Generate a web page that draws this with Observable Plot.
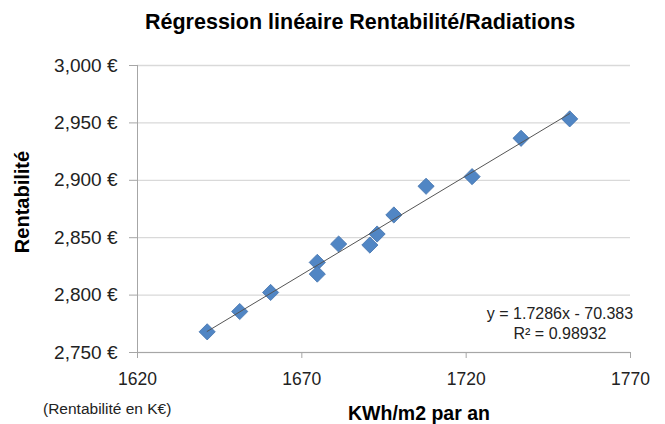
<!DOCTYPE html>
<html>
<head>
<meta charset="utf-8">
<script src="https://cdn.jsdelivr.net/npm/d3@7"></script>
<script src="https://cdn.jsdelivr.net/npm/@observablehq/plot@0.6"></script>
<style>
  body { margin: 0; background: #fff; font-family: "Liberation Sans", Arial, sans-serif; }
  #wrap { position: relative; width: 665px; height: 424px; overflow: hidden; }
  #wrap svg { position: absolute; left: 0; top: 0; }
  .t { position: absolute; white-space: nowrap; color: #000; line-height: 1; font-family: "Liberation Sans", Arial, sans-serif; }
</style>
</head>
<body>
<div id="wrap">
  <div class="t" style="left:145px;top:12.2px;font-size:21.5px;font-weight:bold;">Régression linéaire Rentabilité/Radiations</div>
  <div class="t" style="left:22px;top:202px;font-size:20px;font-weight:bold;transform:translate(-50%,-50%) rotate(-90deg);">Rentabilité</div>
  <div class="t" style="left:348px;top:403.5px;font-size:19.5px;font-weight:bold;">KWh/m2 par an</div>
  <div class="t" style="left:43px;top:401px;font-size:15.5px;color:#222;">(Rentabilité en K€)</div>
  <div class="t" id="eq1" style="left:560px;top:306px;font-size:16px;color:#222;transform:translateX(-50%);"></div>
  <div class="t" id="eq2" style="left:560px;top:326px;font-size:16px;color:#222;transform:translateX(-50%);"></div>
</div>
<script>
// Data
const radiation   = [1641.2, 1651.1, 1660.5, 1674.7, 1674.7, 1681.2, 1690.7, 1692.9, 1698.0, 1707.8, 1721.8, 1736.7, 1751.5];
const rentabilite = [2768.0, 2785.7, 2802.3, 2828.5, 2818.3, 2844.5, 2843.6, 2853.2, 2869.8, 2894.8, 2903.2, 2936.6, 2953.5];
const xTicks = [1620, 1670, 1720, 1770];
const yTicks = [2750, 2800, 2850, 2900, 2950, 3000];
const slopeText = "1.7286";
const interceptText = "70.383";
const r2Text = "0.98932";

document.getElementById("eq1").textContent = `y = ${slopeText}x - ${interceptText}`;
document.getElementById("eq2").textContent = `R² = ${r2Text}`;

const data = radiation.map((x, i) => ({x, y: rentabilite[i]}));
const fmt = d3.format(",");

const chart = Plot.plot({
  width: 665,
  height: 424,
  marginLeft: 137,
  marginRight: 35,
  marginTop: 65,
  marginBottom: 72,
  style: { fontFamily: "Liberation Sans, Arial, sans-serif", background: "transparent", overflow: "visible" },
  x: { domain: [1620, 1770] },
  y: { domain: [2750, 3000] },
  marks: [
    Plot.gridY(yTicks, { stroke: "#d9d9d9", strokeOpacity: 1, strokeWidth: 1.3 }),
    Plot.ruleX([1620], { stroke: "#a6a6a6" }),
    Plot.ruleY([2750], { stroke: "#a6a6a6" }),
    Plot.axisY(yTicks, { tickSize: 8, tickPadding: 12, stroke: "#a6a6a6", fill: "#222", fontSize: 19, label: null, tickFormat: d => fmt(d) + " €" }),
    Plot.axisX(xTicks, { tickSize: 6, tickPadding: 14, stroke: "#a6a6a6", fill: "#222", fontSize: 17.5, label: null, tickFormat: d => String(d) }),
    Plot.dot(data, { x: "x", y: "y", symbol: "diamond2", r: 7.3, fill: "#5186c4", stroke: "#4272ad", strokeWidth: 0.8 }),
    Plot.linearRegressionY(data, { x: "x", y: "y", stroke: "#555", strokeWidth: 1, ci: 0 })
  ]
});
document.getElementById("wrap").prepend(chart);
</script>
</body>
</html>
